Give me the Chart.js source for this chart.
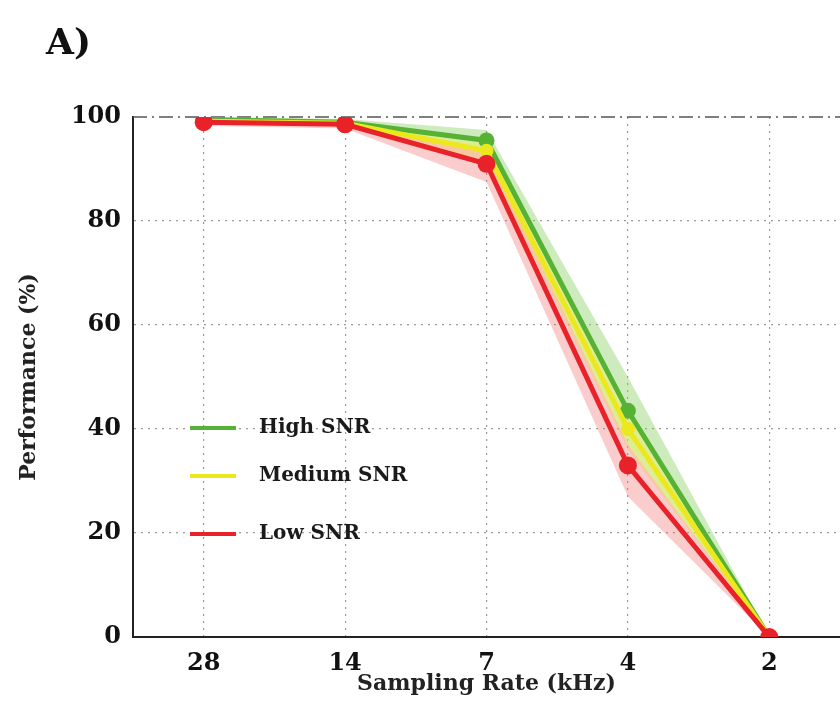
<!DOCTYPE html>
<html>
<head>
<meta charset="utf-8">
<script src="https://cdn.jsdelivr.net/npm/chart.js@4"></script>
<style>
  body { margin: 0; background: #fff; }
</style>
</head>
<body>
<canvas id="myChart" width="840" height="727"></canvas>
<script>
// data
const rates = ["28", "14", "7", "4", "2"];
const highSNR = [99.5, 99, 95.5, 43.5, 0];
const mediumSNR = [99.2, 98.8, 93.5, 40, 0];
const lowSNR = [99, 98.6, 91, 33, 0];
const highLo = [98.8, 98.3, 93.5, 37, 0];
const highHi = [100, 99.6, 97.5, 50, 0];
const medLo = [98.6, 98.2, 91.5, 36, 0];
const medHi = [99.8, 99.3, 95, 44, 0];
const lowLo = [98.3, 97.8, 87.5, 27, 0];
const lowHi = [99.6, 99.2, 93.5, 37, 0];
const yTicks = [0, 20, 40, 60, 80, 100];

const green = "rgb(86, 178, 52)";
const yellow = "rgb(236, 232, 30)";
const red = "rgb(232, 34, 40)";
const font = "DejaVu Serif";

function band(lo, hi, fillColor) {
	return [
		{ data: lo, borderWidth: 0, pointRadius: 0, fill: false },
		{ data: hi, borderWidth: 0, pointRadius: 0, fill: "-1", backgroundColor: fillColor },
	];
}

function line(label, data, color, radius) {
	return {
		label: label,
		data: data,
		borderColor: color,
		backgroundColor: color,
		borderWidth: 5,
		pointRadius: radius,
		pointBorderWidth: 0,
		fill: false,
	};
}

const lowLine = line("Low SNR", lowSNR, red, 9);
const medLine = line("Medium SNR", mediumSNR, yellow, 7);
const highLine = line("High SNR", highSNR, green, 8);
const legendItems = [highLine, medLine, lowLine];

// draws the "A)" label, the dash-dot line at 100 and the legend inside the plot
const extras = {
	id: "extras",
	beforeDatasetsDraw(chart) {
		const c = chart.ctx;
		const area = chart.chartArea;
		const y100 = chart.scales.y.getPixelForValue(100);
		c.save();
		c.strokeStyle = "#555";
		c.lineWidth = 1.5;
		c.setLineDash([14, 5, 2, 5]);
		c.beginPath();
		c.moveTo(area.left, y100);
		c.lineTo(area.right, y100);
		c.stroke();
		c.restore();
	},
	afterDraw(chart) {
		const c = chart.ctx;
		c.save();
		c.fillStyle = "#111";
		c.font = "bold 36px '" + font + "'";
		c.textBaseline = "middle";
		c.fillText("A)", 46, 45);

		const rows = [428, 476, 534];
		legendItems.forEach((d, i) => {
			c.strokeStyle = d.borderColor;
			c.lineWidth = 4;
			c.beginPath();
			c.moveTo(190, rows[i]);
			c.lineTo(236, rows[i]);
			c.stroke();
			c.fillStyle = "#1a1a1a";
			c.font = "bold 20px '" + font + "'";
			c.fillText(d.label, 259, rows[i]);
		});
		c.restore();
	},
};

const ctx = document.getElementById("myChart").getContext("2d");
const myChart = new Chart(ctx, {
	type: "line",
	data: {
		labels: rates,
		datasets: [
			lowLine,
			medLine,
			highLine,
			...band(lowLo, lowHi, "rgba(240, 110, 110, 0.35)"),
			...band(medLo, medHi, "rgba(245, 240, 90, 0.4)"),
			...band(highLo, highHi, "rgba(130, 205, 90, 0.4)"),
		],
	},
	options: {
		responsive: false,
		animation: false,
		layout: { autoPadding: false, padding: { top: 117, right: -4, left: 0, bottom: 0 } },
		plugins: {
			legend: { display: false },
			tooltip: { enabled: false },
		},
		elements: { line: { tension: 0 } },
		scales: {
			x: {
				offset: true,
				grid: { offset: false, color: "#999", lineWidth: 1.2, drawTicks: false },
				border: { display: true, color: "#222", width: 2, dash: [2, 5] },
				ticks: { color: "#111", padding: 12, font: { family: font, size: 24, weight: "bold" } },
				title: {
					display: true,
					text: "Sampling Rate (kHz)",
					color: "#222",
					padding: { top: 0, bottom: 30 },
					font: { family: font, size: 22, weight: "bold" },
				},
				afterFit(scale) {
					scale.height = 90;
				},
			},
			y: {
				min: 0,
				max: 100,
				afterBuildTicks(scale) {
					scale.ticks = yTicks.map(v => ({ value: v }));
				},
				grid: {
					color: ctx => (ctx.tick && ctx.tick.value === 100 ? "rgba(0,0,0,0)" : "#999"),
					lineWidth: 1.2,
					drawTicks: false,
				},
				border: { display: true, color: "#222", width: 2, dash: [2, 5] },
				ticks: { color: "#111", padding: 12, font: { family: font, size: 24, weight: "bold" } },
				title: {
					display: true,
					text: "Performance (%)",
					color: "#222",
					padding: { top: 16, bottom: 0 },
					font: { family: font, size: 22, weight: "bold" },
				},
				afterFit(scale) {
					scale.width = 133;
				},
			},
		},
	},
	plugins: [extras],
});
</script>
</body>
</html>
